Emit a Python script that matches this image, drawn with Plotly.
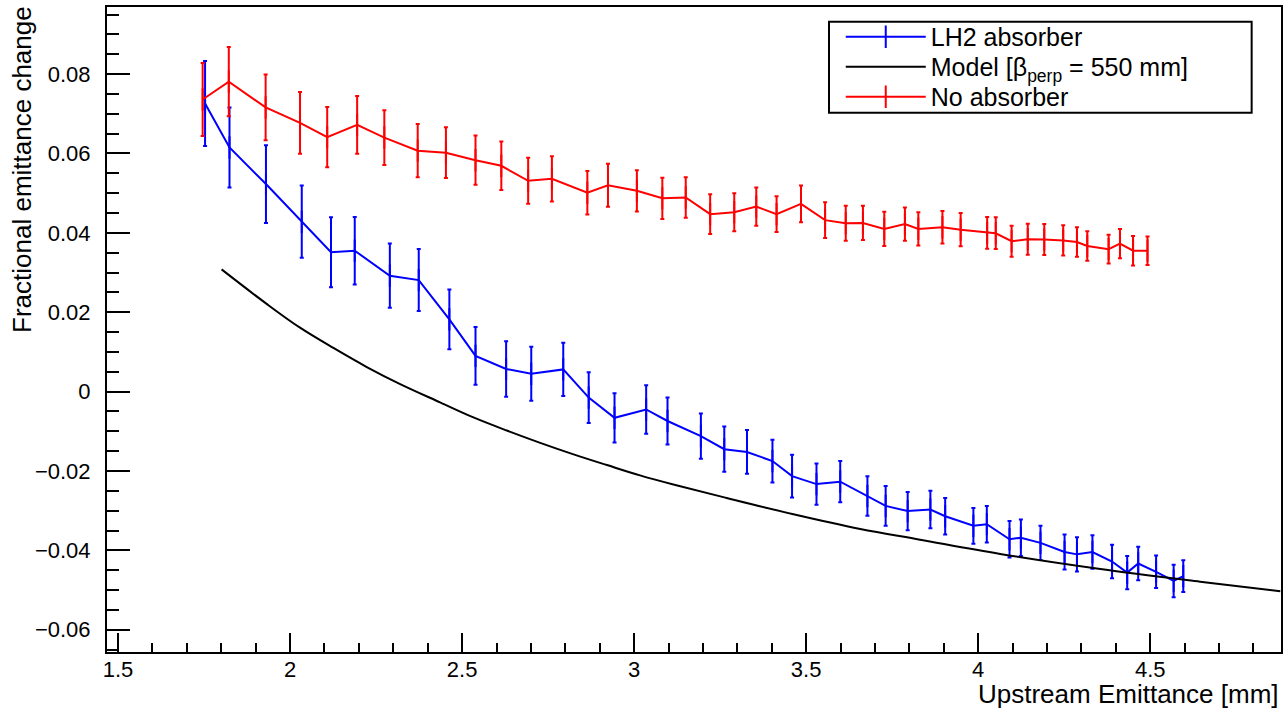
import plotly.graph_objects as go

# LH2 absorber
lh2_x = [1.753, 1.824, 1.930, 2.034, 2.119, 2.188, 2.290, 2.374, 2.463, 2.539,
         2.628, 2.701, 2.794, 2.868, 2.943, 3.035, 3.097, 3.194, 3.262, 3.328,
         3.402, 3.459, 3.530, 3.599, 3.678, 3.731, 3.795, 3.861, 3.904, 3.986,
         4.025, 4.091, 4.124, 4.181, 4.251, 4.287, 4.332, 4.389, 4.433, 4.465,
         4.517, 4.568, 4.596]
lh2_y = [0.0726, 0.0615, 0.0523, 0.0428, 0.0351, 0.0355, 0.0292, 0.0281, 0.0182, 0.0090,
         0.0057, 0.0045, 0.0056, -0.0015, -0.0066, -0.0045, -0.0074, -0.0112, -0.0145, -0.0152,
         -0.0175, -0.0213, -0.0233, -0.0227, -0.0263, -0.0288, -0.0301, -0.0297, -0.0314, -0.0338,
         -0.0334, -0.0372, -0.0368, -0.0381, -0.0404, -0.0410, -0.0404, -0.0428, -0.0456, -0.0433,
         -0.0454, -0.0477, -0.0465]
lh2_err = [0.0107, 0.0101, 0.0098, 0.0091, 0.0088, 0.0085, 0.0081, 0.0078, 0.0075, 0.0073,
           0.0070, 0.0068, 0.0067, 0.0064, 0.0062, 0.0061, 0.0059, 0.0057, 0.0057, 0.0055,
           0.0054, 0.0054, 0.0052, 0.0052, 0.0050, 0.0050, 0.0048, 0.0047, 0.0046, 0.0045,
           0.0046, 0.0046, 0.0046, 0.0043, 0.0044, 0.0043, 0.0042, 0.0042, 0.0042, 0.0042,
           0.0041, 0.0041, 0.0040]

# No absorber
none_x = [1.746, 1.822, 1.929, 2.029, 2.108, 2.195, 2.274, 2.371, 2.453, 2.539,
          2.614, 2.692, 2.761, 2.864, 2.924, 3.008, 3.082, 3.150, 3.221, 3.291,
          3.355, 3.414, 3.485, 3.555, 3.615, 3.665, 3.727, 3.787, 3.826, 3.896,
          3.949, 4.026, 4.051, 4.097, 4.144, 4.192, 4.247, 4.287, 4.317, 4.379,
          4.412, 4.450, 4.492]
none_y = [0.0736, 0.0781, 0.0716, 0.0677, 0.0641, 0.0672, 0.0640, 0.0607, 0.0602, 0.0583,
          0.0569, 0.0531, 0.0536, 0.0501, 0.0520, 0.0506, 0.0487, 0.0489, 0.0447, 0.0452,
          0.0466, 0.0447, 0.0473, 0.0432, 0.0424, 0.0425, 0.0410, 0.0422, 0.0410, 0.0414,
          0.0408, 0.0400, 0.0399, 0.0379, 0.0384, 0.0383, 0.0381, 0.0377, 0.0367, 0.0359,
          0.0373, 0.0355, 0.0355]
none_err = [0.0092, 0.0087, 0.0083, 0.0078, 0.0076, 0.0073, 0.0069, 0.0067, 0.0064, 0.0062,
            0.0061, 0.0058, 0.0057, 0.0055, 0.0054, 0.0052, 0.0052, 0.0051, 0.0050, 0.0048,
            0.0048, 0.0045, 0.0046, 0.0045, 0.0044, 0.0043, 0.0043, 0.0042, 0.0042, 0.0041,
            0.0042, 0.0040, 0.0040, 0.0039, 0.0039, 0.0039, 0.0038, 0.0037, 0.0037, 0.0036,
            0.0037, 0.0037, 0.0036]

# model curve, beta_perp = 550 mm
model_x = [1.801, 1.932, 2.029, 2.126, 2.223, 2.320, 2.436, 2.533, 2.630, 2.727,
           2.824, 2.921, 3.017, 3.114, 3.269, 3.463, 3.657, 3.831, 4.064, 4.355,
           4.645, 4.878]
model_y = [0.0308, 0.0221, 0.0161, 0.0110, 0.0062, 0.0019, -0.0027, -0.0065, -0.0098, -0.0129,
           -0.0158, -0.0185, -0.0211, -0.0234, -0.0268, -0.0309, -0.0346, -0.0373, -0.0409, -0.0447,
           -0.0479, -0.0503]

FONT = "Liberation Sans"
BLUE = "#0000ff"
RED = "#ff0000"


def data_trace(x, y, err, color, name, legend):
    return go.Scatter(
        x=x, y=y, name=name, mode="lines+markers", legend=legend,
        line=dict(color=color, width=2),
        marker=dict(symbol="line-ns-open", size=16, line=dict(color=color, width=2)),
        error_y=dict(type="data", array=err, visible=True, color=color,
                     thickness=2, width=2),
    )


fig = go.Figure()
fig.add_trace(data_trace(lh2_x, lh2_y, lh2_err, BLUE, "LH2 absorber", "legend"))
fig.add_trace(go.Scatter(x=model_x, y=model_y, mode="lines", name="Model [β<sub>perp</sub> = 550 mm]",
                         legend="legend2",
                         line=dict(color="black", width=2, shape="spline", smoothing=1.0)))
fig.add_trace(data_trace(none_x, none_y, none_err, RED, "No absorber", "legend3"))

axis_common = dict(
    showline=True, linecolor="black", linewidth=2, mirror=True, automargin=False,
    showgrid=False, zeroline=False, ticks="inside", tickcolor="black", tickwidth=1.5,
    tickfont=dict(family=FONT, size=22, color="black"),
)

fig.update_xaxes(range=[1.468, 4.88], tick0=0, dtick=0.5, ticklen=19, ticklabelstandoff=-3,
                 minor=dict(dtick=0.1, ticklen=9, ticks="inside", tickcolor="black", tickwidth=1.5),
                 **axis_common)
fig.update_yaxes(range=[-0.0656, 0.0969], tick0=0, dtick=0.02, ticklen=23, ticklabelstandoff=10,
                 minor=dict(dtick=0.005, ticklen=12, ticks="inside", tickcolor="black", tickwidth=1.5),
                 **axis_common)

fig.add_annotation(text="Fractional emittance change", textangle=-90, showarrow=False,
                   xref="paper", yref="paper", x=-0.0724, y=1.004, xanchor="center", yanchor="top",
                   font=dict(family=FONT, size=26, color="black"))
fig.add_annotation(text="Upstream Emittance [mm]", showarrow=False,
                   xref="paper", yref="paper", x=1.0, y=-0.0655, xanchor="right", yanchor="middle",
                   font=dict(family=FONT, size=26, color="black"))

# legend frame
fig.add_shape(type="rect", xref="paper", yref="paper", x0=0.615, x1=0.975, y0=0.836, y1=0.977,
              line=dict(color="black", width=2), fillcolor="white", layer="below")

legend_common = dict(xanchor="left", yanchor="middle", bgcolor="rgba(0,0,0,0)", borderwidth=0,
                     font=dict(family=FONT, size=25, color="black"), itemwidth=80)

fig.update_layout(
    width=1285, height=708,
    margin=dict(l=107, r=4, t=7, b=56),
    paper_bgcolor="white", plot_bgcolor="white",
    font=dict(family=FONT, color="black"),
    legend=dict(x=0.625, y=0.9535, **legend_common),
    legend2=dict(x=0.625, y=0.907, **legend_common),
    legend3=dict(x=0.625, y=0.8605, **legend_common),
    showlegend=True,
)

# drop the default page margin so the figure fills the window exactly
fig.write_html("out.html", config={"displayModeBar": False},
               post_script="document.body.style.margin='0';"
                           "document.documentElement.style.overflow='hidden';")
